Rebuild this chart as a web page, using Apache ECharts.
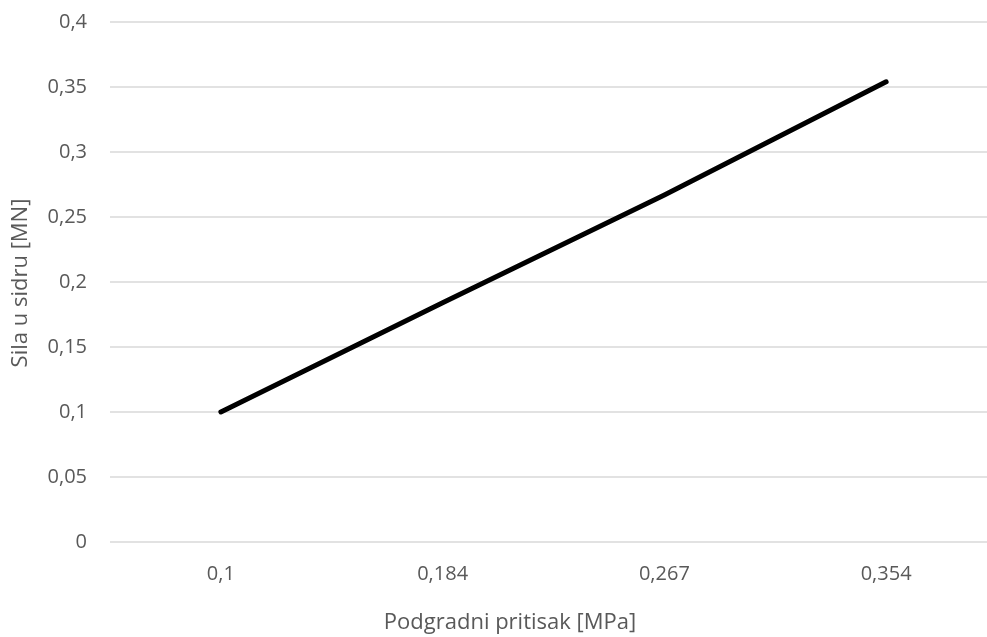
<!DOCTYPE html>
<html>
<head>
<meta charset="utf-8">
<script src="https://cdn.jsdelivr.net/npm/echarts@6/dist/echarts.min.js"></script>
<style>html,body{margin:0;padding:0;background:#fff;overflow:hidden;width:987px;height:637px}#c{width:997px;height:637px}</style>
</head>
<body>
<div id="c"></div>
<script>
var categories = ['0,1', '0,184', '0,267', '0,354'];
var values = [0.1, 0.184, 0.267, 0.354];
var xTitle = 'Podgradni pritisak [MPa]';
var yTitle = 'Sila u sidru [MN]';

var chart = echarts.init(document.getElementById('c'), null, {renderer: 'canvas'});
var font = '"Open Sans", sans-serif';
chart.setOption({
  animation: false,
  backgroundColor: '#ffffff',
  grid: {left: 110, right: 0, top: 22, bottom: 95, containLabel: false},
  title: [
    {text: xTitle, left: 505, top: 607, textAlign: 'center',
     textStyle: {fontFamily: font, fontSize: 22, fontWeight: 'normal', color: '#595959'}}
  ],
  graphic: [
    {type: 'text', x: 21, y: 283, rotation: Math.PI / 2,
     style: {text: yTitle, font: '22px "Open Sans", sans-serif', fill: '#595959', align: 'center', verticalAlign: 'middle'}}
  ],
  xAxis: {
    type: 'category', data: categories, boundaryGap: true,
    axisLine: {show: false}, axisTick: {show: false},
    axisLabel: {fontFamily: font, fontSize: 20, color: '#595959', margin: 22},
    splitLine: {show: false}
  },
  yAxis: {
    type: 'value', min: 0, max: 0.4, interval: 0.05,
    axisLine: {show: false}, axisTick: {show: false},
    axisLabel: {fontFamily: font, fontSize: 20, color: '#595959', margin: 23,
      formatter: function (v) { return String(Math.round(v * 100) / 100).replace('.', ','); }},
    splitLine: {lineStyle: {color: '#d9d9d9', width: 1.5}}
  },
  series: [{
    type: 'line', data: values, symbol: 'none',
    lineStyle: {color: '#000000', width: 5, cap: 'round', join: 'round'}
  }]
});
</script>
</body>
</html>
